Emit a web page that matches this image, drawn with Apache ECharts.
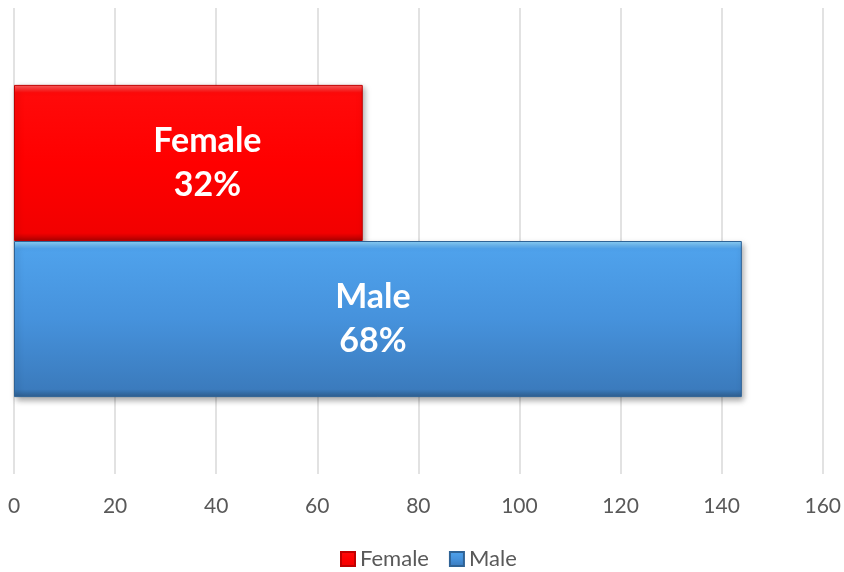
<!DOCTYPE html>
<html>
<head>
<meta charset="utf-8">
<script src="https://cdn.jsdelivr.net/npm/echarts@6/dist/echarts.min.js"></script>
<style>
  html, body { margin: 0; padding: 0; background: #fff; }
  #chart { width: 844px; height: 572px; }
</style>
</head>
<body>
<div id="chart"></div>
<script>
const seriesNames = ['Female', 'Male'];
const seriesValues = [69, 144];
const pctLabels = ['32%', '68%'];
const xTicks = { min: 0, max: 160, interval: 20 };

const fills = [
  new echarts.graphic.LinearGradient(0, 0, 0, 1, [
    { offset: 0, color: '#ff6060' },
    { offset: 0.05, color: '#ff0a0a' },
    { offset: 0.5, color: '#ff0000' },
    { offset: 0.95, color: '#f20000' },
    { offset: 1, color: '#b00000' }
  ]),
  new echarts.graphic.LinearGradient(0, 0, 0, 1, [
    { offset: 0, color: '#90d4fa' },
    { offset: 0.05, color: '#4fa2ec' },
    { offset: 0.5, color: '#4692dc' },
    { offset: 0.95, color: '#3b7bbd' },
    { offset: 1, color: '#2e5e8e' }
  ])
];
const borders = ['#c00000', '#2f6396'];
// Excel places the labels a bit off centre
const labelShift = [[19, 0], [-5, 0]];

const myChart = echarts.init(document.getElementById('chart'));

const series = seriesNames.map((name, i) => {
  return {
    name,
    type: 'bar',
    data: [seriesValues[i]],
    barGap: '0%',
    barCategoryGap: '33%',
    itemStyle: {
      color: fills[i],
      borderColor: borders[i],
      borderWidth: 1,
      shadowColor: 'rgba(0, 0, 0, 0.35)',
      shadowBlur: 6,
      shadowOffsetX: 2,
      shadowOffsetY: 3
    },
    label: {
      show: true,
      position: 'inside',
      offset: labelShift[i],
      color: '#ffffff',
      fontFamily: 'Lato',
      fontWeight: 'bold',
      fontSize: 34,
      lineHeight: 44,
      formatter: function (d) {
        return d.seriesName + '\n' + pctLabels[d.seriesIndex]
      }
    }
  }
});

const option = {
  animation: false,
  grid: { left: 14, right: 21, top: 8, bottom: 98 },
  legend: {
    data: seriesNames,
    bottom: -3,
    left: 335,
    icon: 'rect',
    itemWidth: 14,
    itemHeight: 14,
    itemGap: 20,
    textStyle: { color: '#595959', fontFamily: 'Lato', fontSize: 22 }
  },
  xAxis: {
    type: 'value',
    min: xTicks.min,
    max: xTicks.max,
    interval: xTicks.interval,
    axisLine: { show: false },
    axisTick: { show: false },
    axisLabel: { color: '#595959', fontFamily: 'Lato', fontSize: 21, margin: 22 },
    splitLine: { lineStyle: { color: '#d9d9d9', width: 1.5 } }
  },
  yAxis: {
    type: 'category',
    data: [''],
    inverse: true,
    axisLine: { show: false },
    axisTick: { show: false },
    axisLabel: { show: false }
  },
  series
};
option && myChart.setOption(option);
</script>
</body>
</html>
